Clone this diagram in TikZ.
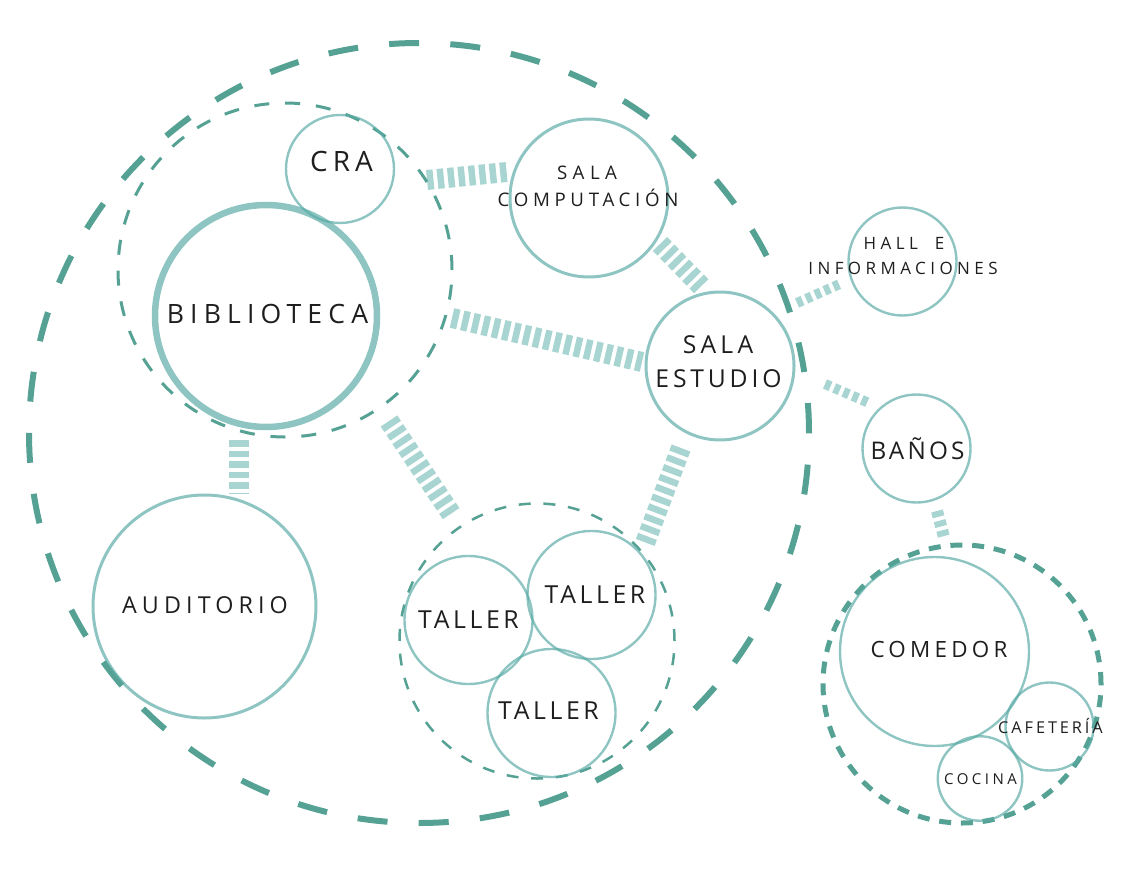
\documentclass[tikz,border=0pt]{standalone}
\usepackage{fontspec}
\setmainfont{Open Sans}
\definecolor{dk}{RGB}{85,162,148}
\definecolor{ci}{RGB}{88,170,165}
\definecolor{lk}{RGB}{168,213,209}
\definecolor{ink}{RGB}{30,30,30}
\newcommand\lt[3]{\fontsize{#1}{#1}\selectfont\addfontfeatures{LetterSpace=#2}#3}
\begin{document}
\begin{tikzpicture}[x=1pt,y=-1pt,
  ring/.style={circle,draw=ci,draw opacity=0.68,line width=2.4pt,inner sep=0pt},
  grp/.style={circle,draw=dk,inner sep=0pt},
  link/.style={draw=lk,line width=20pt,dash pattern=on 6.5pt off 4pt},
  slink/.style={draw=lk,line width=10pt,dash pattern=on 6pt off 4pt},
  txt/.style={inner sep=0pt,anchor=base,text=ink}]
\path[use as bounding box] (0,0) rectangle (1123,885);

% connector end points
\coordinate (l1a) at (427,180); \coordinate (l1b) at (507,172);
\coordinate (l2a) at (660,244); \coordinate (l2b) at (703,288);
\coordinate (l3a) at (452,318); \coordinate (l3b) at (642,362);
\coordinate (l4a) at (797,303); \coordinate (l4b) at (842,283);
\coordinate (l5a) at (825,384); \coordinate (l5b) at (869,403);
\coordinate (l6a) at (937,511); \coordinate (l6b) at (944,537);
\coordinate (l7a) at (239,440); \coordinate (l7b) at (239,493);
\coordinate (l8a) at (389,421); \coordinate (l8b) at (452,515);
\coordinate (l9a) at (681,448); \coordinate (l9b) at (645,543);

\draw[link] (l1a) -- (l1b);
\draw[link] (l2a) -- (l2b);
\draw[link] (l3a) -- (l3b);
\draw[slink] (l4a) -- (l4b);
\draw[slink] (l5a) -- (l5b);
\draw[slink,line width=12pt] (l6a) -- (l6b);
\draw[link] (l7a) -- (l7b);
\draw[link] (l8a) -- (l8b);
\draw[link] (l9a) -- (l9b);

% group rings
\node[grp,minimum size=780pt,line width=6pt,dash pattern=on 30pt off 31.26pt] (zone) at (419,433) {};
\node[grp,minimum size=334pt,line width=3pt,dash pattern=on 15pt off 15.9pt] (bibgrp) at (285,270) {};
\node[grp,minimum size=275pt,line width=2.5pt,dash pattern=on 12pt off 12.7pt] (tallgrp) at (537,641) {};
\node[grp,minimum size=278pt,line width=5pt,dash pattern=on 12pt off 9.8pt] (comgrp) at (962,684) {};

% spaces
\node[ring,minimum size=222pt,line width=6.5pt] (bib) at (266,316) {};
\node[ring,minimum size=108pt] (cra) at (340,169) {};
\node[ring,minimum size=158pt,line width=3pt] (sc) at (589,198) {};
\node[ring,minimum size=148pt,line width=3pt] (se) at (720,366) {};
\node[ring,minimum size=108pt] (hall) at (902.5,261.5) {};
\node[ring,minimum size=108pt] (ban) at (916.5,448.5) {};
\node[ring,minimum size=223pt,line width=3pt] (aud) at (204.5,606.5) {};
\node[ring,minimum size=128pt] (ta1) at (468.5,620) {};
\node[ring,minimum size=128pt] (ta2) at (591.5,595) {};
\node[ring,minimum size=128pt] (ta3) at (551.5,713) {};
\node[ring,minimum size=189pt] (com) at (934.5,651.5) {};
\node[ring,minimum size=88pt] (caf) at (1049.5,726.5) {};
\node[ring,minimum size=84.5pt] (coc) at (980,778.5) {};

% labels
\node[txt] (t-cra) at (341.5,172) {\lt{28}{18}{CRA}};
\node[txt] (t-bib) at (267.5,323) {\lt{26.6}{23}{BIBLIOTECA}};
\node[txt] (t-sc1) at (587,180) {\lt{18.7}{29}{SALA}};
\node[txt] (t-sc2) at (588,207) {\lt{18.7}{25}{COMPUTACIÓN}};
\node[txt] (t-h1) at (904,250) {\lt{17}{26}{HALL\hspace{17pt}E}};
\node[txt] (t-h2) at (903,274) {\lt{17}{26}{INFORMACIONES}};
\node[txt] (t-se1) at (718,353) {\lt{24.7}{17}{SALA}};
\node[txt] (t-se2) at (718.5,387) {\lt{24.7}{15.5}{ESTUDIO}};
\node[txt] (t-ban) at (917.5,459) {\lt{24.3}{13}{BAÑOS}};
\node[txt] (t-aud) at (205,613) {\lt{23.3}{22}{AUDITORIO}};
\node[txt] (t-ta1) at (468.5,628) {\lt{24.8}{14.5}{TALLER}};
\node[txt] (t-ta2) at (595,603) {\lt{24.8}{14.5}{TALLER}};
\node[txt] (t-ta3) at (548.5,719) {\lt{24.8}{14.5}{TALLER}};
\node[txt] (t-com) at (939,657) {\lt{22.4}{19}{COMEDOR}};
\node[txt] (t-caf) at (1050.5,733) {\lt{16.3}{18}{CAFETERÍA}};
\node[txt] (t-coc) at (980.5,784) {\lt{15}{23}{COCINA}};
\end{tikzpicture}
\end{document}
